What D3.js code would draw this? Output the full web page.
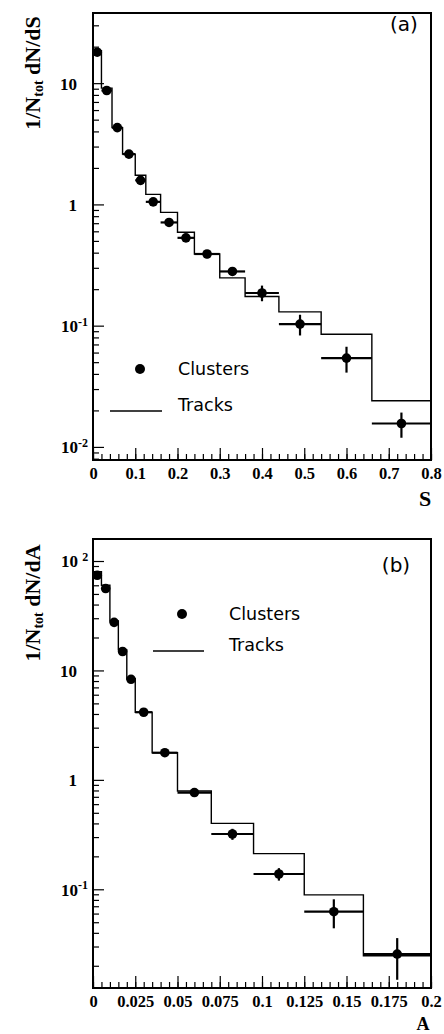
<!DOCTYPE html>
<html>
<head>
<meta charset="utf-8">
<script src="https://cdn.jsdelivr.net/npm/d3@7"></script>
<style>
  body { margin: 0; background: #fff; }
  svg { display: block; }
</style>
</head>
<body>
<script>
// panel (a): S distribution
const sEdges    = [0, 0.02, 0.045, 0.07, 0.1, 0.125, 0.16, 0.2, 0.24, 0.3, 0.36, 0.44, 0.54, 0.66, 0.8];
const sTracks   = [18.5, 9.1, 4.3, 2.6, 1.74, 1.21, 0.86, 0.59, 0.39, 0.248, 0.174, 0.13, 0.085, 0.024];
const sClusters = [18, 8.7, 4.3, 2.6, 1.58, 1.05, 0.71, 0.53, 0.39, 0.28, 0.186, 0.103, 0.054, 0.0156];
const sErrLow   = [17.6, 8.5, 4.2, 2.5, 1.5, 0.98, 0.66, 0.49, 0.36, 0.26, 0.159, 0.083, 0.041, 0.0119];
const sErrHigh  = [18.4, 8.9, 4.4, 2.7, 1.68, 1.12, 0.77, 0.57, 0.42, 0.30, 0.214, 0.123, 0.067, 0.0192];
const sXTicks   = [0, 0.1, 0.2, 0.3, 0.4, 0.5, 0.6, 0.7, 0.8];
const sXLabels  = ["0", "0.1", "0.2", "0.3", "0.4", "0.5", "0.6", "0.7", "0.8"];
const sYTicks   = [0.01, 0.1, 1, 10];
const sYLabels  = [["10", "-2"], ["10", "-1"], ["1", ""], ["10", ""]];

// panel (b): A distribution
const aEdges    = [0, 0.005, 0.01, 0.015, 0.02, 0.025, 0.035, 0.05, 0.07, 0.095, 0.125, 0.16, 0.2];
const aTracks   = [80, 60, 28.3, 15.4, 8.4, 4.15, 1.77, 0.79, 0.40, 0.212, 0.089, 0.0247];
const aClusters = [74, 56, 27.5, 14.9, 8.3, 4.15, 1.77, 0.766, 0.32, 0.138, 0.0624, 0.0256];
const aErrLow   = [72, 54.5, 26.8, 14.5, 8.1, 4.05, 1.72, 0.74, 0.283, 0.12, 0.044, 0.0149];
const aErrHigh  = [76, 57.5, 28.2, 15.3, 8.5, 4.25, 1.82, 0.79, 0.357, 0.156, 0.081, 0.0358];
const aXTicks   = [0, 0.025, 0.05, 0.075, 0.1, 0.125, 0.15, 0.175, 0.2];
const aXLabels  = ["0", "0.025", "0.05", "0.075", "0.1", "0.125", "0.15", "0.175", "0.2"];
const aYTicks   = [0.1, 1, 10, 100];
const aYLabels  = [["10", "-1"], ["1", ""], ["10", ""], ["10 ", "2"]];

const svg = d3.select("body").append("svg")
    .attr("width", 444)
    .attr("height", 1034);

const serif = "'Liberation Serif', 'Times New Roman', serif";
const sans = "'DejaVu Sans', sans-serif";

function drawPanel(p) {
  const x = d3.scaleLinear().domain(p.xDomain).range([p.left, p.right]);
  const y = d3.scaleLog().domain(p.yDomain).range([p.bottom, p.top]);
  const g = svg.append("g");

  // minor y ticks (2..9 per decade)
  const yMinor = [];
  for (let d = Math.floor(Math.log10(p.yDomain[0])); d <= Math.ceil(Math.log10(p.yDomain[1])); d++) {
    for (let k = 2; k <= 9; k++) {
      const v = k * Math.pow(10, d);
      if (v > p.yDomain[0] && v < p.yDomain[1]) yMinor.push(v);
    }
  }
  g.append("g")
    .attr("transform", "translate(" + p.left + ",0)")
    .call(d3.axisLeft(y).tickValues(yMinor).tickSize(-6).tickFormat(""))
    .call(a => a.select(".domain").remove());

  // major y ticks with labels
  const yAx = g.append("g")
    .attr("transform", "translate(" + p.left + ",0)")
    .call(d3.axisLeft(y).tickValues(p.yTicks).tickSize(-11).tickPadding(16).tickFormat(""))
    .call(a => a.select(".domain").remove());
  yAx.selectAll(".tick text").each(function(d, i) {
    const t = d3.select(this)
      .attr("font-family", serif).attr("font-weight", "bold").attr("font-size", 17)
      .attr("fill", "#000").attr("text-anchor", "end").attr("dy", "0.35em");
    const lab = p.yLabels[i];
    if (lab[1] === "") {
      t.text(lab[0]);
    } else {
      t.attr("text-anchor", "start").attr("x", -32);
      t.append("tspan").text(lab[0]);
      t.append("tspan").attr("font-size", 12).attr("dy", "-0.55em").text(lab[1]);
    }
  });

  // minor x ticks
  const xMinor = d3.range(p.xDomain[0], p.xDomain[1] + p.xMinorStep / 2, p.xMinorStep);
  g.append("g")
    .attr("transform", "translate(0," + p.bottom + ")")
    .call(d3.axisBottom(x).tickValues(xMinor).tickSize(-6).tickFormat(""))
    .call(a => a.select(".domain").remove());

  // major x ticks with labels
  g.append("g")
    .attr("transform", "translate(0," + p.bottom + ")")
    .call(d3.axisBottom(x).tickValues(p.xTicks).tickSize(-12).tickPadding(7)
      .tickFormat((d, i) => p.xLabels[i]))
    .call(a => a.select(".domain").remove())
    .call(a => a.selectAll(".tick text")
      .attr("font-family", serif).attr("font-weight", "bold").attr("font-size", 16.5).attr("fill", "#000"));
  g.selectAll(".tick line").attr("stroke", "#000").attr("stroke-width", 1.2);

  // frame
  g.append("rect")
    .attr("x", p.left).attr("y", p.top)
    .attr("width", p.right - p.left).attr("height", p.bottom - p.top)
    .attr("fill", "none").attr("stroke", "#000").attr("stroke-width", 2);

  // tracks histogram
  const steps = p.tracks.map((v, i) => [p.edges[i], v]);
  steps.push([p.edges[p.edges.length - 1], p.tracks[p.tracks.length - 1]]);
  g.append("path")
    .datum(steps)
    .attr("fill", "none").attr("stroke", "#000").attr("stroke-width", 1.4)
    .attr("d", d3.line().x(d => x(d[0])).y(d => y(d[1])).curve(d3.curveStepAfter));

  // clusters with error bars
  const pts = p.clusters.map((v, i) => ({
    x0: p.edges[i], x1: p.edges[i + 1], xc: (p.edges[i] + p.edges[i + 1]) / 2,
    v: v, lo: p.errLow[i], hi: p.errHigh[i]
  }));
  const pg = g.append("g");
  pg.selectAll("line.h").data(pts).enter().append("line")
    .attr("x1", d => x(d.x0)).attr("x2", d => x(d.x1))
    .attr("y1", d => y(d.v)).attr("y2", d => y(d.v))
    .attr("stroke", "#000").attr("stroke-width", 2.2);
  pg.selectAll("line.v").data(pts).enter().append("line")
    .attr("x1", d => x(d.xc)).attr("x2", d => x(d.xc))
    .attr("y1", d => y(d.lo)).attr("y2", d => y(d.hi))
    .attr("stroke", "#000").attr("stroke-width", 2.2);
  pg.selectAll("circle").data(pts).enter().append("circle")
    .attr("cx", d => x(d.xc)).attr("cy", d => y(d.v)).attr("r", 4.8).attr("fill", "#000");

  // y axis title
  const yt = g.append("text")
    .attr("transform", "translate(" + p.titleX + "," + p.titleY + ") rotate(-90)")
    .attr("text-anchor", "middle")
    .attr("font-family", serif).attr("font-weight", "bold").attr("font-size", 22);
  yt.append("tspan").text("1/N");
  yt.append("tspan").attr("font-size", 14).attr("dy", 3).text("tot");
  yt.append("tspan").attr("dy", -3).text(" dN/d" + p.varName);

  // x axis title
  g.append("text")
    .attr("x", p.xTitleX).attr("y", p.xTitleY)
    .attr("text-anchor", "middle")
    .attr("font-family", serif).attr("font-weight", "bold").attr("font-size", p.xTitleSize)
    .text(p.varName);

  // panel tag
  g.append("text")
    .attr("x", p.tagX).attr("y", p.tagY)
    .attr("text-anchor", "middle")
    .attr("font-family", sans).attr("font-size", 20)
    .text(p.tag);

  // legend
  g.append("circle").attr("cx", p.legX).attr("cy", p.legY).attr("r", 5).attr("fill", "#000");
  g.append("text").attr("x", p.legTextX).attr("y", p.legY + 6)
    .attr("font-family", sans).attr("font-size", 17.5).text("Clusters");
  g.append("line")
    .attr("x1", p.legLineX0).attr("x2", p.legLineX1)
    .attr("y1", p.legY + p.legGap).attr("y2", p.legY + p.legGap)
    .attr("stroke", "#000").attr("stroke-width", 1.3);
  g.append("text").attr("x", p.legTextX).attr("y", p.legY + p.legGap)
    .attr("font-family", sans).attr("font-size", 17.5).text("Tracks");
}

drawPanel({
  left: 93, right: 431, top: 13, bottom: 460,
  xDomain: [0, 0.8], yDomain: [0.0078, 37.9], xMinorStep: 0.02,
  xTicks: sXTicks, xLabels: sXLabels, yTicks: sYTicks, yLabels: sYLabels,
  edges: sEdges, tracks: sTracks, clusters: sClusters, errLow: sErrLow, errHigh: sErrHigh,
  varName: "S", titleX: 40, titleY: 73, xTitleX: 425, xTitleY: 506, xTitleSize: 22,
  tag: "(a)", tagX: 404, tagY: 31,
  legX: 140, legY: 369, legTextX: 178, legLineX0: 110, legLineX1: 162, legGap: 42
});

drawPanel({
  left: 93, right: 431, top: 539, bottom: 988,
  xDomain: [0, 0.2], yDomain: [0.01253, 158.9], xMinorStep: 0.005,
  xTicks: aXTicks, xLabels: aXLabels, yTicks: aYTicks, yLabels: aYLabels,
  edges: aEdges, tracks: aTracks, clusters: aClusters, errLow: aErrLow, errHigh: aErrHigh,
  varName: "A", titleX: 40, titleY: 603, xTitleX: 423, xTitleY: 1030, xTitleSize: 18,
  tag: "(b)", tagX: 396, tagY: 572,
  legX: 182, legY: 614, legTextX: 229, legLineX0: 153, legLineX1: 204, legGap: 37
});
</script>
</body>
</html>
